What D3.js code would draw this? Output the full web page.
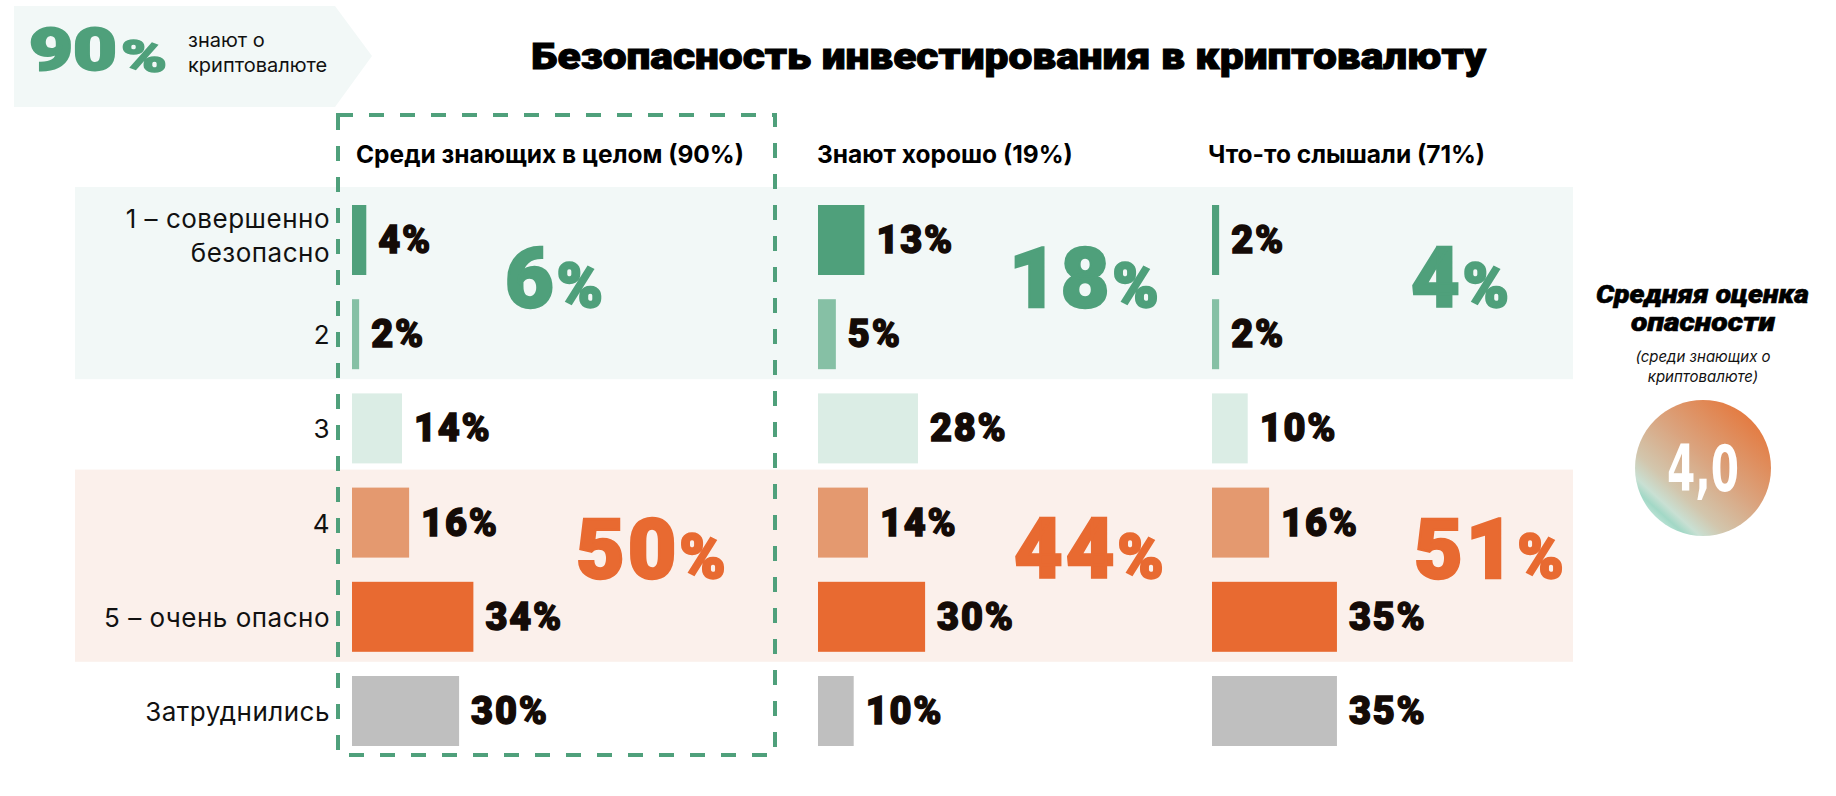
<!DOCTYPE html>
<html><head><meta charset="utf-8">
<script src="https://cdn.jsdelivr.net/npm/d3@7"></script>
<style>
html,body{margin:0;padding:0;background:#fff;}
svg{display:block;}
</style></head>
<body>
<svg id="chart" width="1836" height="796"></svg>
<script>
// ---------- DATA ----------
const categories = ["1 – совершенно\nбезопасно", "2", "3", "4", "5 – очень опасно", "Затруднились"];
const groups = ["Среди знающих в целом (90%)", "Знают хорошо (19%)", "Что-то слышали (71%)"];
const valuesAll = [4, 2, 14, 16, 34, 30];
const valuesGood = [13, 5, 28, 14, 30, 10];
const valuesHeard = [2, 2, 10, 16, 35, 35];
const safeTotals = [6, 18, 4];
const dangerTotals = [50, 44, 51];
const awareShare = 90;
const avgScore = "4,0";
const title = "Безопасность инвестирования в криптовалюту";

// ---------- LAYOUT / STYLE ----------
const series = [valuesAll, valuesGood, valuesHeard];
const rowColors = ["#4fa07b", "#86c0a5", "#dbede5", "#e4996f", "#e86a31", "#bfbfbf"];
const green = "#4fa07b", orange = "#e86a31";
const heavy = "Roboto, 'Noto Sans', sans-serif";
const regular = "Inter, 'Noto Sans', sans-serif";

const svg = d3.select("#chart");

const y = d3.scalePoint().domain(categories).range([240, 711]);
const colX = d3.scaleOrdinal().domain(groups).range([352, 818, 1212]);
const hdrShift = [4, -1, -4];
const x = d3.scaleLinear().domain([0, 100]).range([0, 357]);
const barH = 70;

// bands
const bands = [
  {from: 0, to: 1, fill: "#f2f8f7"},
  {from: 3, to: 4, fill: "#fbf0eb"}
];
svg.selectAll("rect.band").data(bands).join("rect")
  .attr("class", "band")
  .attr("x", 75).attr("width", 1573 - 75)
  .attr("y", d => y(categories[d.from]) - 53)
  .attr("height", d => y(categories[d.to]) + 45 - (y(categories[d.from]) - 53))
  .attr("fill", d => d.fill);

// top-left badge
svg.append("path")
  .attr("d", "M14,6 H335 L372,56 L335,107 H14 Z")
  .attr("fill", "#f2f8f7");
svg.append("text").attr("x", 29).attr("y", 70)
  .attr("font-family", heavy).attr("font-weight", 900).attr("fill", green)
  .attr("stroke", green).attr("stroke-width", 2)
  .attr("font-size", 60).attr("textLength", 88).attr("lengthAdjust", "spacingAndGlyphs")
  .text(awareShare);
svg.append("text").attr("x", 121).attr("y", 72)
  .attr("font-family", heavy).attr("font-weight", 900).attr("fill", green)
  .attr("stroke", green).attr("stroke-width", 1.5)
  .attr("font-size", 44).attr("textLength", 46).attr("lengthAdjust", "spacingAndGlyphs")
  .text("%");
svg.append("text").attr("x", 188).attr("y", 47)
  .attr("font-family", regular).attr("font-size", 20).attr("fill", "#111")
  .text("знают о");
svg.append("text").attr("x", 188).attr("y", 72)
  .attr("font-family", regular).attr("font-size", 20).attr("fill", "#111")
  .text("криптовалюте");

// title
svg.append("text").attr("x", 531).attr("y", 69)
  .attr("font-family", heavy).attr("font-weight", 900).attr("font-size", 37)
  .attr("stroke", "#000").attr("stroke-width", 1)
  .attr("textLength", 955).attr("lengthAdjust", "spacingAndGlyphs")
  .attr("fill", "#000").text(title);

// headers
svg.selectAll("text.hdr").data(groups).join("text")
  .attr("class", "hdr")
  .attr("x", (d, i) => colX(d) + hdrShift[i]).attr("y", 163)
  .attr("font-family", regular).attr("font-weight", 700).attr("font-size", 24.5)
  .attr("fill", "#000").text(d => d);

// row labels
const rl = svg.selectAll("text.rowlab").data(categories).join("text")
  .attr("class", "rowlab")
  .attr("text-anchor", "end")
  .attr("font-family", regular).attr("font-size", 26).attr("letter-spacing", 0.5)
  .attr("fill", "#111");
rl.each(function(d) {
  const lines = d.split("\n");
  const t = d3.select(this);
  const cy = y(d);
  lines.forEach((ln, i) => {
    t.append("tspan").attr("x", 330)
      .attr("y", lines.length === 1 ? cy + 10 : cy - 12 + i * 34)
      .text(ln);
  });
});

// bars + value labels
groups.forEach((g, gi) => {
  const vals = series[gi];
  const data = vals.map((v, i) => ({v, cat: categories[i], i}));
  const gg = svg.append("g");
  gg.selectAll("rect").data(data).join("rect")
    .attr("x", colX(g))
    .attr("y", d => y(d.cat) - barH / 2)
    .attr("width", d => x(d.v))
    .attr("height", barH)
    .attr("fill", d => rowColors[d.i]);
  gg.selectAll("text").data(data).join("text")
    .attr("x", d => colX(g) + x(d.v) + 12)
    .attr("y", d => y(d.cat) + 13)
    .attr("font-family", heavy).attr("font-weight", 900).attr("font-size", 38)
    .attr("letter-spacing", 1.8)
    .attr("fill", "#140b07").attr("stroke", "#140b07").attr("stroke-width", 1.4)
    .text(d => d.v + "%");
});

// big totals
const bigSafeOffset = [153, 191, 199];
const bigDangerOffset = [224, 196, 202];
function bigLabel(val, xx, yy, color) {
  const t = svg.append("text").attr("x", xx).attr("y", yy)
    .attr("font-family", heavy).attr("font-weight", 900).attr("fill", color)
    .attr("stroke", color).attr("stroke-width", 2.4);
  t.append("tspan").attr("font-size", 84).attr("letter-spacing", 3).text(val);
  t.append("tspan").attr("font-size", 62).text("%");
}
groups.forEach((g, gi) => {
  bigLabel(safeTotals[gi], colX(g) + bigSafeOffset[gi], y(categories[0]) + 67, green);
  bigLabel(dangerTotals[gi], colX(g) + bigDangerOffset[gi], y(categories[3]) + 55, orange);
});

// dashed highlight box
svg.append("rect")
  .attr("x", 338).attr("y", 115).attr("width", 775 - 338).attr("height", 755 - 115)
  .attr("fill", "none").attr("stroke", green).attr("stroke-width", 4)
  .attr("stroke-dasharray", "15 16");

// average score
const cx = 1703;
svg.append("text").attr("x", cx - 107).attr("y", 303)
  .attr("font-family", heavy).attr("font-weight", 900).attr("font-style", "italic")
  .attr("font-size", 25).attr("textLength", 213).attr("lengthAdjust", "spacingAndGlyphs")
  .attr("stroke", "#000").attr("stroke-width", 0.6)
  .attr("fill", "#000").text("Средняя оценка");
svg.append("text").attr("x", cx - 72).attr("y", 331)
  .attr("font-family", heavy).attr("font-weight", 900).attr("font-style", "italic")
  .attr("font-size", 25).attr("textLength", 144).attr("lengthAdjust", "spacingAndGlyphs")
  .attr("stroke", "#000").attr("stroke-width", 0.6)
  .attr("fill", "#000").text("опасности");
svg.append("text").attr("x", cx).attr("y", 362).attr("text-anchor", "middle")
  .attr("font-family", regular).attr("font-style", "italic")
  .attr("font-size", 15).attr("fill", "#111").text("(среди знающих о");
svg.append("text").attr("x", cx).attr("y", 382).attr("text-anchor", "middle")
  .attr("font-family", regular).attr("font-style", "italic")
  .attr("font-size", 15).attr("fill", "#111").text("криптовалюте)");

const defs = svg.append("defs");
const lg = defs.append("linearGradient").attr("id", "circGrad")
  .attr("x1", "88%").attr("y1", "8%").attr("x2", "12%").attr("y2", "92%");
[[0, "#e5763a"], [0.45, "#daa47f"], [0.72, "#d2c6ad"], [0.84, "#c9e0d3"], [0.9, "#a2d8c6"], [1, "#d3ede4"]]
  .forEach(s => lg.append("stop").attr("offset", s[0]).attr("stop-color", s[1]));
svg.append("circle").attr("cx", cx).attr("cy", 468).attr("r", 68).attr("fill", "url(#circGrad)");
svg.append("text").attr("x", cx - 36).attr("y", 491)
  .attr("font-family", "'DejaVu Sans Condensed', 'DejaVu Sans', sans-serif")
  .attr("font-weight", 700).attr("font-size", 64)
  .attr("textLength", 72).attr("lengthAdjust", "spacingAndGlyphs")
  .attr("fill", "#fff").text(avgScore);
</script>
</body></html>
